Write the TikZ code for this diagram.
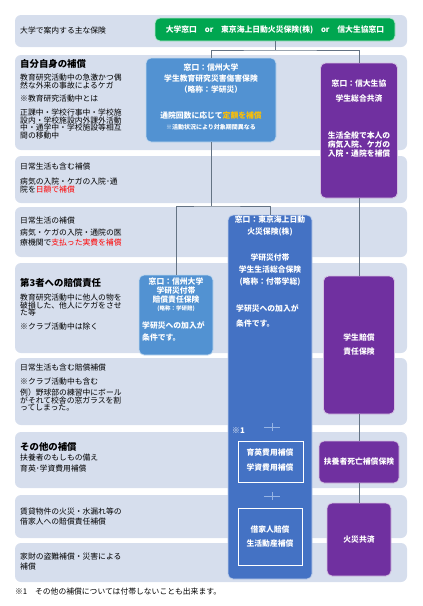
\documentclass[tikz,border=0pt]{standalone}
\usepackage{fontspec}
\setmainfont{Noto Sans CJK JP}
\usepackage{tikz}
\usetikzlibrary{positioning,calc}
\lineskiplimit=-10pt
\definecolor{bandgray}{RGB}{214,222,237}
\definecolor{deskgreen}{RGB}{0,166,80}
\definecolor{uniblue}{RGB}{82,146,210}
\definecolor{tmblue}{RGB}{68,114,196}
\definecolor{coopviolet}{RGB}{112,48,160}
\definecolor{linkgray}{RGB}{100,115,132}
\definecolor{alertred}{RGB}{255,0,0}
\definecolor{fixgold}{RGB}{255,192,0}
\definecolor{pluscol}{RGB}{150,180,228}

\begin{document}
\begin{tikzpicture}[x=1pt,y=-1pt,
    band/.style={rectangle, fill=bandgray, rounded corners=6pt, minimum width=392pt, inner sep=0pt, outer sep=0pt},
    insbox/.style={rectangle, rounded corners=5pt, inner sep=0pt, outer sep=0pt, line width=0.8pt},
    notetxt/.style={anchor=north west, align=left, inner sep=0pt, font=\fontsize{7.8}{7.6}\selectfont},
    headtxt/.style={anchor=west, inner sep=0pt, font=\fontsize{9.4}{10}\selectfont\bfseries},
    boxtxt/.style={anchor=north, align=center, inner sep=0pt, text=white, font=\fontsize{7.8}{#1}\selectfont\bfseries},
    boxtxt/.default=11,
    link/.style={draw=linkgray, line width=0.6pt}]
  \useasboundingbox (0,0) rectangle (423,606);

  % rows
  \foreach \name/\cy/\h in {row0/31/32, row1/102.5/95, row2/179.5/47, row3/232/50, row4/308/90,
      row5/391.5/67, row6/460/56, row7/516.5/43, row8/562.5/39}
    \node[band, minimum height=\h] (\name) at (211,\cy) {};

  % left column
  \node[anchor=west, inner sep=0pt, font=\fontsize{7.8}{8}\selectfont] (guide) at (20,31) {大学で案内する主な保険};
  \node[headtxt] (own) at (20,64) {自分自身の補償};
  \node[notetxt] (ownnote) at (20,74) {教育研究活動中の急激かつ偶\\然な外来の事故によるケガ\\[5.6pt]※教育研究活動中とは\\[6.6pt]正課中・学校行事中・学校施\\設内・学校施設内外課外活動\\中・通学中・学校施設等相互\\間の移動中};
  \node[notetxt] (dailyall) at (20,163) {日常生活も含む補償\\[7.6pt]病気の入院・ケガの入院･通\\院を{\color{alertred}日額で補償}};
  \node[notetxt] (daily) at (20,217) {日常生活の補償\\[4.4pt]病気・ケガの入院・通院の医\\[2.4pt]療機関で{\color{alertred}支払った実費を補償}};
  \node[headtxt] (third) at (20,283) {第3者への賠償責任};
  \node[notetxt] (thirdnote) at (20,294) {教育研究活動中に他人の物を\\破損した、他人にケガをさせ\\た等\\[6.4pt]※クラブ活動中は除く};
  \node[notetxt] (liab) at (20,364) {日常生活も含む賠償補償\\[6.4pt]※クラブ活動中も含む\\[3.4pt]例）野球部の練習中にボール\\がそれて校舎の窓ガラスを割\\ってしまった。};
  \node[headtxt] (other) at (20,447) {その他の補償};
  \node[notetxt] (othernote) at (20,454) {扶養者のもしもの備え\\[3.4pt]育英･学資費用補償};
  \node[notetxt] (rent) at (20,508) {賃貸物件の火災・水漏れ等の\\[2.4pt]借家人への賠償責任補償};
  \node[notetxt] (goods) at (20,553) {家財の盗難補償・災害による\\[2.4pt]補償};
  \node[anchor=west, inner sep=0pt, font=\fontsize{7.8}{8}\selectfont] (foot) at (15,592) {※1　その他の補償については付帯しないことも出来ます。};

  % insurance boxes
  \node[insbox, fill=deskgreen, draw=white!70!deskgreen, minimum width=240pt, minimum height=23pt,
        text=white, font=\fontsize{7.8}{8}\selectfont\bfseries] (desk) at (275,29.5) {大学窓口　or　東京海上日動火災保険(株)　or　信大生協窓口};
  \node[insbox, fill=uniblue, draw=white!65!uniblue, minimum width=130pt, minimum height=84pt] (gakken) at (211,100) {};
  \node[insbox, fill=coopviolet, draw=white!70!coopviolet, minimum width=77pt, minimum height=135pt] (seikyo) at (359,130.5) {};
  \node[insbox, fill=tmblue, draw=white!65!tmblue, minimum width=84pt, minimum height=364pt] (tokio) at (270,397) {};
  \node[insbox, fill=uniblue, draw=white!65!uniblue, minimum width=74pt, minimum height=80pt] (baisho) at (176,315) {};
  \node[insbox, fill=coopviolet, draw=white!70!coopviolet, minimum width=71pt, minimum height=138pt] (gakubai) at (359,345) {};
  \node[insbox, fill=coopviolet, draw=white!70!coopviolet, minimum width=80pt, minimum height=42pt] (fuyo) at (359,462) {};
  \node[insbox, fill=coopviolet, draw=white!70!coopviolet, minimum width=64pt, minimum height=73pt] (kasai) at (359,539.5) {};
  \node[rectangle, draw=white, line width=0.8pt, minimum width=65pt, minimum height=41pt] (ikuei) at (270.5,461.5) {};
  \node[rectangle, draw=white, line width=0.8pt, minimum width=64pt, minimum height=57pt] (shakuya) at (270,536.5) {};

  % box texts
  \node[boxtxt] (gakkentxt) at (211,64) {窓口：信州大学\\学生教育研究災害傷害保険\\（略称：学研災）\\[15pt]通院回数に応じて{\color{fixgold}定額を補償}\\{\fontsize{6}{11}\selectfont ※活動状況により対象期間異なる}};
  \node[boxtxt=9] (seikyotxt) at (359,80) {窓口：信大生協\\[6pt]学生総合共済\\[28pt]生活全般で本人の\\病気入院、ケガの\\入院・通院を補償};
  \node[boxtxt=12] (tokiotxt) at (270,216) {窓口：東京海上日動\\火災保険(株)\\[14pt]学研災付帯\\学生生活総合保険\\(略称：付帯学総)};
  \node[boxtxt=15, anchor=north west, align=left] (tokiocond) at (236,304) {学研災への加入が\\条件です。};
  \node[boxtxt=8.6] (baishotxt) at (176,278) {窓口：信州大学\\学研災付帯\\賠償責任保険\\{\fontsize{5.5}{8.6}\selectfont (略称：学研賠)}};
  \node[boxtxt=12, anchor=north west, align=left] (baishocond) at (142,321) {学研災への加入が\\条件です。};
  \node[boxtxt=14] (gakubaitxt) at (359,334) {学生賠償\\責任保険};
  \node[boxtxt, anchor=center] (fuyotxt) at (fuyo) {扶養者死亡補償保険};
  \node[boxtxt, anchor=center] (kasaitxt) at (359,540) {火災共済};
  \node[boxtxt=15] (ikueitxt) at (270,449) {育英費用補償\\学資費用補償};
  \node[boxtxt=14] (shakuyatxt) at (270,526) {借家人賠償\\生活動産補償};
  \node[boxtxt, anchor=west] (mark) at (232,431) {※1};

  % plus signs
  \coordinate (plusA) at (272,427);
  \coordinate (plusB) at (272,496);
  \foreach \p in {plusA,plusB} {
    \draw[pluscol, line width=1pt] ($(\p)+(-8,0)$) -- ($(\p)+(8,0)$);
    \draw[pluscol, line width=1pt] ($(\p)+(0,-4)$) -- ($(\p)+(0,4)$);
  }

  % connectors
  \draw[link] (desk.south) -- ++(0,9) coordinate (split);
  \draw[link] (gakken.north) |- (split) -| (seikyo.north);
  \draw[link] (gakken.south) -- ++(0,64) coordinate (fork);
  \draw[link] (baisho.north) |- (fork) -| (tokio.north);
  \draw[link] (seikyo.south) -- (gakubai.north);
  \draw[link] (gakubai.south) -- (fuyo.north);
  \draw[link] (fuyo.south) -- (kasai.north);
\end{tikzpicture}
\end{document}
